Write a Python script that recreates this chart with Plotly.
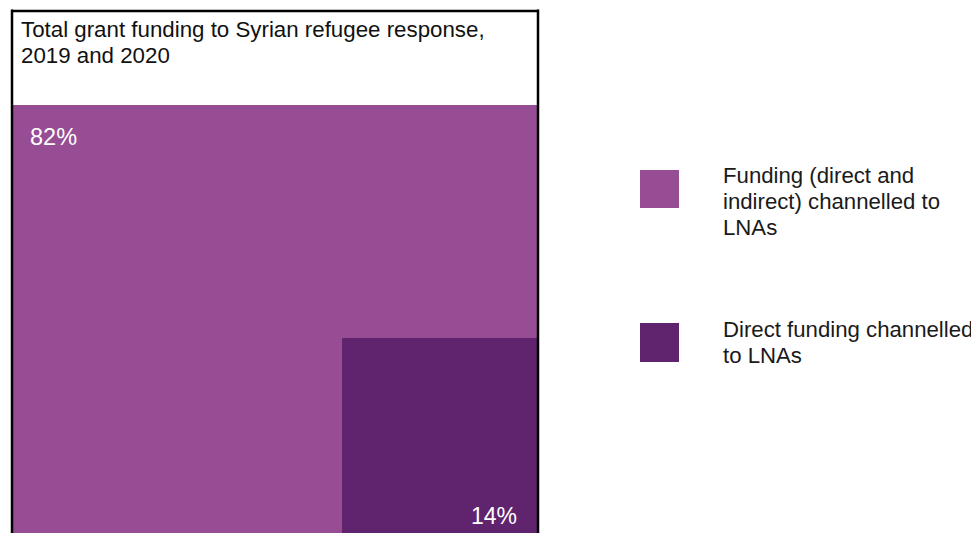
import math
import plotly.graph_objects as go

# ---- data ----
title_lines = ["Total grant funding to Syrian refugee response,", "2019 and 2020"]
series_lines = [["Funding (direct and", "indirect) channelled to", "LNAs"],
                ["Direct funding channelled", "to LNAs"]]
shares = [82, 14]            # % of total grant funding
share_labels = ["82%", "14%"]
colors = ["#974D93", "#60236E"]

# ---- layout geometry (viewport pixels) ----
OFF = 8                       # page body margin
W_FIG, H_FIG = 979, 533
BOX_L, BOX_T, BOX_R, BOX_B = 12, 11, 538, 534
L, T = BOX_L - OFF, BOX_T - OFF
R = W_FIG - (BOX_R - OFF)
B = H_FIG - (BOX_B - OFF)
PW, PH = BOX_R - BOX_L, BOX_B - BOX_T

def px_x(v):  # viewport pixel -> paper
    return (v - BOX_L) / PW
def px_y(v):
    return (BOX_B - v) / PH

fig = go.Figure()

h1 = shares[0] / 100 * PH
fig.add_trace(go.Bar(x=[PW / 2], y=[h1], width=[PW], base=[0],
                     marker=dict(color=colors[0], line=dict(width=0)),
                     showlegend=False, hoverinfo="skip"))
s = math.sqrt(shares[1] / 100 * PW * PH)
fig.add_trace(go.Bar(x=[PW - s / 2], y=[s], width=[s], base=[0],
                     marker=dict(color=colors[1], line=dict(width=0)),
                     showlegend=False, hoverinfo="skip"))

font = "Arial, Liberation Sans, sans-serif"
ann = []

def line(text, x, baseline, size, color, xanchor="left"):
    ann.append(dict(x=px_x(x), y=px_y(baseline - 0.35 * size), xref="paper", yref="paper",
                    text=text, showarrow=False, xanchor=xanchor, yanchor="middle",
                    font=dict(family=font, size=size, color=color)))

for i, t in enumerate(title_lines):
    line(t, 19, 37 + 26 * i, 22.3, "#111111")

line(share_labels[0], 28, 145, 23.5, "white")
line(share_labels[1], 519, 524, 23, "white", xanchor="right")

leg_sq = [(170, 208), (323, 362)]
leg_base = [183, 337]
shapes = []
for i in range(2):
    y0, y1 = leg_sq[i]
    shapes.append(dict(type="rect", xref="paper", yref="paper",
                       x0=px_x(640), x1=px_x(679), y0=px_y(y1), y1=px_y(y0),
                       fillcolor=colors[i], line=dict(width=0)))
    for j, t in enumerate(series_lines[i]):
        line(t, 721, leg_base[i] + 26 * j, 22.2, "#1a1a1a")

# box border: left, top, right only (box continues below the crop)
for (x0, y0, x1, y1) in [(0, -0.05, 0, 1.003), (0, 1, 1, 1), (1, -0.05, 1, 1.003)]:
    shapes.append(dict(type="line", xref="paper", yref="paper", x0=x0, y0=y0,
                       x1=x1, y1=y1, line=dict(color="black", width=2.5), layer="above"))

fig.update_layout(
    width=W_FIG, height=H_FIG,
    margin=dict(l=L, r=R, t=T, b=B),
    paper_bgcolor="white", plot_bgcolor="white",
    barmode="overlay", bargap=0,
    annotations=ann, shapes=shapes,
    xaxis=dict(range=[0, PW], showgrid=False, zeroline=False, showticklabels=False,
               ticks="", showline=False, fixedrange=True),
    yaxis=dict(range=[0, PH], showgrid=False, zeroline=False, showticklabels=False,
               ticks="", showline=False, fixedrange=True),
)
fig.write_html("out.html", config={"displayModeBar": False})
